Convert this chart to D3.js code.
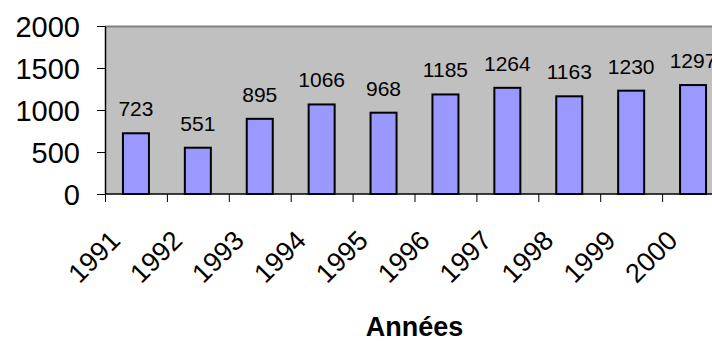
<!DOCTYPE html>
<html>
<head>
<meta charset="utf-8">
<script src="https://cdn.jsdelivr.net/npm/d3@7/dist/d3.min.js"></script>
<style>
  html, body { margin: 0; padding: 0; background: #ffffff; overflow: hidden; }
  svg { display: block; }
  text { font-family: "Liberation Sans", Arial, sans-serif; fill: #000; }
</style>
</head>
<body>
<script>
// Yearly totals, 1991–2000
const years = ["1991", "1992", "1993", "1994", "1995", "1996", "1997", "1998", "1999", "2000"];
const values = [723, 551, 895, 1066, 968, 1185, 1264, 1163, 1230, 1297];
const yTicks = [0, 500, 1000, 1500, 2000];
const xTitle = "Années";

const W = 712, H = 341;
const plot = { left: 105, right: 724, top: 26, bottom: 194 };

const svg = d3.select("body").append("svg")
  .attr("width", W).attr("height", H);

const x = d3.scaleBand().domain(years).range([plot.left, plot.right]).padding(0);
const y = d3.scaleLinear().domain([0, 2000]).range([plot.bottom, plot.top]);
const barW = x.bandwidth() * 0.42;

// plot area background
svg.append("rect")
  .attr("x", plot.left).attr("y", plot.top)
  .attr("width", plot.right - plot.left).attr("height", plot.bottom - plot.top)
  .attr("fill", "#c0c0c0");
svg.append("line")
  .attr("x1", plot.left).attr("x2", plot.right)
  .attr("y1", plot.top + 0.5).attr("y2", plot.top + 0.5)
  .attr("stroke", "#808080").attr("stroke-width", 2);

// bars
svg.append("g").selectAll("rect").data(values).join("rect")
  .attr("x", (d, i) => x(years[i]) + (x.bandwidth() - barW) / 2)
  .attr("y", d => y(d))
  .attr("width", barW)
  .attr("height", d => y(0) - y(d))
  .attr("fill", "#9999ff")
  .attr("stroke", "#000")
  .attr("stroke-width", 2);

// value labels
svg.append("g").selectAll("text").data(values).join("text")
  .attr("x", (d, i) => x(years[i]) + x.bandwidth() / 2)
  .attr("y", d => y(d) - 17)
  .attr("text-anchor", "middle")
  .attr("font-size", 21)
  .text(d => d);

// y axis
const yAxis = svg.append("g")
  .attr("transform", `translate(${plot.left},0)`)
  .call(d3.axisLeft(y).tickValues(yTicks).tickSize(8).tickSizeOuter(0).tickPadding(17).tickFormat(d3.format("d")));
yAxis.select(".domain").attr("stroke", "#000").attr("stroke-width", 1.5);
yAxis.selectAll(".tick line").attr("stroke", "#000");
yAxis.selectAll(".tick text")
  .attr("font-size", 29)
  .attr("font-family", "Liberation Sans, Arial, sans-serif")
  .attr("fill", "#000")
  .attr("dy", "0.36em");

// x axis (ticks on category boundaries)
const xg = svg.append("g");
xg.append("line")
  .attr("x1", plot.left).attr("x2", plot.right)
  .attr("y1", plot.bottom).attr("y2", plot.bottom)
  .attr("stroke", "#000").attr("stroke-width", 1.5);
xg.selectAll("line.tk").data(years).join("line")
  .attr("class", "tk")
  .attr("x1", d => x(d) + 0.5).attr("x2", d => x(d) + 0.5)
  .attr("y1", plot.bottom).attr("y2", plot.bottom + 8)
  .attr("stroke", "#000").attr("stroke-width", 1);

// rotated category labels
xg.selectAll("text").data(years).join("text")
  .attr("transform", d => `translate(${x(d) + x.bandwidth() / 2 - 14},242) rotate(-45)`)
  .attr("text-anchor", "end")
  .attr("font-size", 27)
  .text(d => d);

// axis title
svg.append("text")
  .attr("x", (plot.left + plot.right) / 2)
  .attr("y", 336)
  .attr("text-anchor", "middle")
  .attr("font-size", 27)
  .attr("font-weight", "bold")
  .text(xTitle);
</script>
</body>
</html>
